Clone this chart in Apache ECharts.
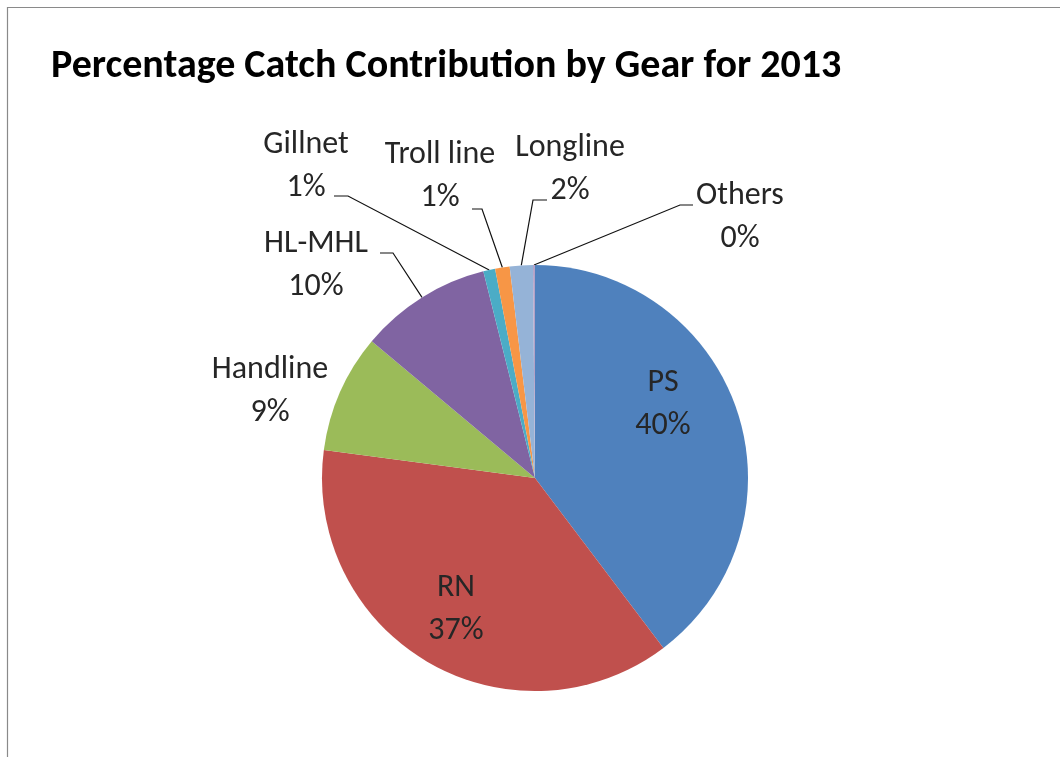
<!DOCTYPE html>
<html><head><meta charset="utf-8">
<script src="https://cdn.jsdelivr.net/npm/echarts@6/dist/echarts.min.js"></script>
<style>html,body{margin:0;padding:0;background:#fff}#c{width:1060px;height:757px}</style>
</head><body><div id="c"></div>
<script>
// ---- data ----
const chartTitle = 'Percentage Catch Contribution by Gear for 2013';
const categories = ['PS', 'RN', 'Handline', 'HL-MHL', 'Gillnet', 'Troll line', 'Longline', 'Others'];
const values = [39.7, 37.4, 9.0, 10.0, 0.9, 1.1, 1.75, 0.15];

// ---- styles / layout ----
const sliceColors = ['#4F81BD', '#C0504D', '#9BBB59', '#8064A2', '#4BACC6', '#F79646', '#95B3D7', '#B3A2C7'];
const CENTER = [535, 478];
const RADIUS = 213;
const FONT = 'Carlito, Calibri, Lato, "Open Sans", sans-serif';
const labelPlacement = {
  'PS':        { x: 663, y: 404 },
  'RN':        { x: 456, y: 609 },
  'Handline':  { x: 270, y: 391 },
  'HL-MHL':    { x: 316, y: 265, elbow: [393, 253], attach: [380, 253] },
  'Gillnet':   { x: 306, y: 166, elbow: [348, 196], attach: [334, 196] },
  'Troll line':{ x: 440, y: 176, elbow: [482, 209], attach: [472, 209] },
  'Longline':  { x: 570, y: 169, elbow: [533, 200], attach: [547, 200] },
  'Others':    { x: 740, y: 217, elbow: [680, 205], attach: [693, 205] }
};

const total = values.reduce((a, b) => a + b, 0);
function edgePoint(i) {
  let before = 0;
  for (let k = 0; k < i; k++) before += values[k];
  const mid = (before + values[i] / 2) / total * 2 * Math.PI;
  return [CENTER[0] + RADIUS * Math.sin(mid), CENTER[1] - RADIUS * Math.cos(mid)];
}

const chart = echarts.init(document.getElementById('c'), null, { renderer: 'canvas' });
chart.setOption({
  backgroundColor: '#ffffff',
  animation: false,
  title: {
    text: chartTitle,
    left: 46, top: 42,
    textStyle: { fontFamily: FONT, fontSize: 40, fontWeight: 'bold', color: '#000' }
  },
  graphic: [{
    type: 'rect', silent: true,
    shape: { x: 7.5, y: 7.5, width: 1200, height: 1000 },
    style: { fill: 'none', stroke: '#8a8a8a', lineWidth: 1.2 }
  }],
  series: [{
    type: 'pie',
    center: CENTER,
    radius: RADIUS,
    startAngle: 90,
    clockwise: true,
    avoidLabelOverlap: false,
    itemStyle: { borderWidth: 0 },
    label: {
      show: true,
      position: 'outside',
      fontFamily: FONT,
      fontSize: 32,
      lineHeight: 43,
      color: '#262626',
      formatter: p => p.name + '\n' + Math.round(p.percent) + '%'
    },
    labelLine: { show: true, length: 10, length2: 10, lineStyle: { color: '#111', width: 1.2 } },
    labelLayout: function (params) {
      const name = categories[params.dataIndex];
      const p = labelPlacement[name];
      const out = { x: p.x, y: p.y, align: 'center', verticalAlign: 'middle', hideOverlap: false, moveOverlap: null };
      if (p.attach) out.labelLinePoints = [edgePoint(params.dataIndex), p.elbow, p.attach];
      return out;
    },
    data: categories.map((c, i) => ({
      name: c,
      value: values[i],
      itemStyle: { color: sliceColors[i] },
      labelLine: { show: !!labelPlacement[c].attach }
    }))
  }]
});
</script>
</body></html>
